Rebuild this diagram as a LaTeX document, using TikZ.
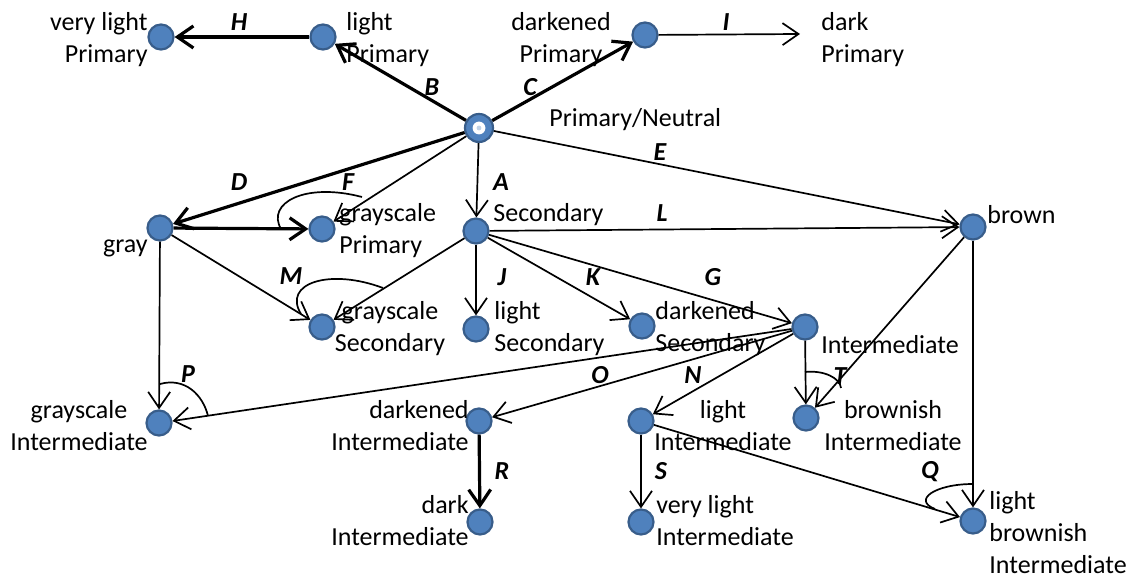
\documentclass[tikz,border=0pt]{standalone}
\usepackage{fontspec}
\setmainfont{Carlito}
\usetikzlibrary{arrows.meta}
\definecolor{dotfill}{RGB}{79,129,189}
\definecolor{dotdraw}{RGB}{56,93,138}
\begin{document}
\begin{tikzpicture}[x=0.5pt,y=-0.5pt,
  dot/.style={circle,fill=dotfill,draw=dotdraw,line width=1.1pt,minimum size=12.5pt,inner sep=0pt},
  ring/.style={dot,minimum size=14pt,path picture={\fill[white] (path picture bounding box.center) circle (3.2pt);\fill[dotfill!35] (path picture bounding box.center) circle (1.2pt);}},
  lab/.style={font=\fontsize{13}{16}\selectfont,inner sep=0pt},
  elab/.style={font=\fontsize{13}{16}\selectfont\bfseries\itshape,inner sep=0pt},
  conn/.style={-{Straight Barb[length=8pt,width=11pt]},line width=0.85pt},
  thickconn/.style={conn,line width=1.6pt},
  arcmark/.style={line width=0.85pt}
]
\fill[white] (0,0) rectangle (1130,581);
\useasboundingbox (0,0) rectangle (1130,581);

% nodes
\node[dot] (vlP) at (161,37) {};
\node[dot] (lP) at (323,37) {};
\node[dot] (dP) at (645,35) {};
\coordinate (dkP) at (800,34);
\node[ring] (PN) at (479,128) {};
\node[dot] (gray) at (160,228) {};
\node[dot] (gsP) at (322,229) {};
\node[dot] (Sec) at (476,231) {};
\node[dot] (brown) at (973,227) {};
\node[dot] (gsS) at (322,327) {};
\node[dot] (lS) at (476,329) {};
\node[dot] (dS) at (642,326) {};
\node[dot] (Int) at (805,327) {};
\node[dot] (gsI) at (159,423) {};
\node[dot] (dI) at (479,421) {};
\node[dot] (lI) at (641,421) {};
\node[dot] (bI) at (806,418) {};
\node[dot] (dkI) at (480,522) {};
\node[dot] (vlI) at (641,522) {};
\node[dot] (lbI) at (973,521) {};

% node texts
\node[lab,align=right,anchor=east] (tvlP) at (148,40) {very light\\Primary};
\node[lab,align=left,anchor=west] (tlP) at (346,40) {light\\Primary};
\node[lab,align=center] (tdP) at (561,40) {darkened\\Primary};
\node[lab,align=left,anchor=west] (tdkP) at (821,40) {dark\\Primary};
\node[lab,anchor=west] (tPN) at (549,120) {Primary/Neutral};
\node[lab,anchor=east] (tgray) at (148,248) {gray};
\node[lab,align=left,anchor=west] (tgsP) at (339,231) {grayscale\\Primary};
\node[lab,anchor=west] (tSec) at (493,215) {Secondary};
\node[lab,anchor=west] (tbrown) at (987,215) {brown};
\node[lab,align=center] (tgsS) at (390,329) {grayscale\\Secondary};
\node[lab,align=left,anchor=west] (tlS) at (494,329) {light\\Secondary};
\node[lab,align=left,anchor=west] (tdS) at (655,329) {darkened\\Secondary};
\node[lab,anchor=west] (tInt) at (821,345) {Intermediate};
\node[lab,align=center] (tgsI) at (79,426) {grayscale\\Intermediate};
\node[lab,align=right,anchor=east] (tdI) at (469,426) {darkened\\Intermediate};
\node[lab,align=center] (tlI) at (723,426) {light\\Intermediate};
\node[lab,align=center] (tbI) at (893,426) {brownish\\Intermediate};
\node[lab,align=right,anchor=east] (tdkI) at (469,521) {dark\\Intermediate};
\node[lab,align=left,anchor=west] (tvlI) at (656,521) {very light\\Intermediate};
\node[lab,align=left,anchor=west] (tlbI) at (989,533) {light\\brownish\\Intermediate};

% connectors
\draw[thickconn] (lP) -- (vlP);
\draw[thickconn] (PN) -- (lP);
\draw[thickconn] (PN) -- (dP);
\draw[conn] (dP) -- (dkP);
\draw[thickconn] (PN) -- (gray);
\draw[conn] (PN) -- (gsP);
\draw[conn] (PN) -- (Sec);
\draw[conn] (PN) -- (brown);
\draw[thickconn] (gray) -- (gsP);
\draw[conn] (gray) -- (gsS);
\draw[conn] (gray) -- (gsI);
\draw[conn] (Sec) -- (brown);
\draw[conn] (Sec) -- (gsS);
\draw[conn] (Sec) -- (lS);
\draw[conn] (Sec) -- (dS);
\draw[conn] (Sec) -- (Int);
\draw[conn] (Int) -- (gsI);
\draw[conn] (Int) -- (dI);
\draw[conn] (Int) -- (lI);
\draw[conn] (Int) -- (bI);
\draw[conn] (brown) -- (bI);
\draw[conn] (brown) -- (lbI);
\draw[thickconn] (dI) -- (dkI);
\draw[conn] (lI) -- (vlI);
\draw[conn] (lI) -- (lbI);

% combination arcs
\draw[arcmark] (281,229) .. controls (266,203) and (305,182) .. (362,197);
\draw[arcmark] (301,314) .. controls (282,283) and (330,268) .. (383,288);
\draw[arcmark] (160,384) .. controls (185,377) and (203,395) .. (208,416);
\draw[arcmark] (805,372) .. controls (824,370) and (840,378) .. (841,388);
\draw[arcmark] (973,484) .. controls (935,484) and (912,500) .. (935,509);

% edge labels
\node[elab] (lH) at (239,22) {H};
\node[elab] (lB) at (432,87) {B};
\node[elab] (lC) at (530,87) {C};
\node[elab] (lI2) at (726,22) {I};
\node[elab] (lD) at (239,182) {D};
\node[elab] (lF) at (348,182) {F};
\node[elab] (lA) at (501,182) {A};
\node[elab] (lE) at (660,152) {E};
\node[elab] (lL) at (662,213) {L};
\node[elab] (lM) at (291,276) {M};
\node[elab] (lJ) at (502,277) {J};
\node[elab] (lK) at (593,277) {K};
\node[elab] (lG) at (713,277) {G};
\node[elab] (lP2) at (188,374) {P};
\node[elab] (lO) at (600,375) {O};
\node[elab] (lN) at (693,375) {N};
\node[elab] (lT) at (840,376) {T};
\node[elab] (lR) at (502,471) {R};
\node[elab] (lS2) at (661,471) {S};
\node[elab] (lQ) at (930,472) {Q};
\end{tikzpicture}
\end{document}
